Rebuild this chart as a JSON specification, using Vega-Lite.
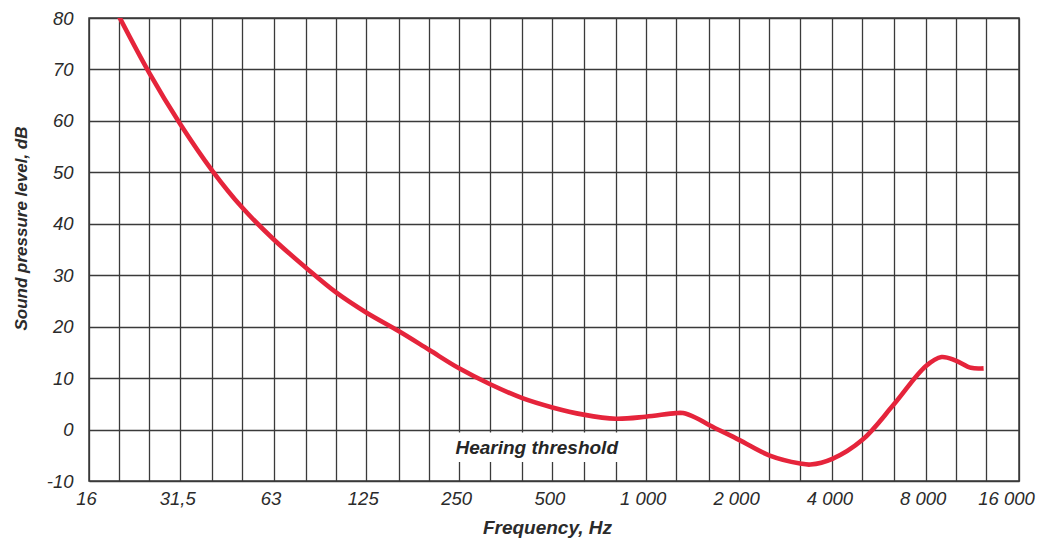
{
  "$schema": "https://vega.github.io/schema/vega-lite/v6.json",
  "width": 930,
  "height": 463,
  "autosize": {"type": "none"},
  "padding": {"left": 89, "top": 18, "right": 19, "bottom": 57},
  "background": "white",
  "config": {
    "view": {"stroke": "#3a3a3a", "strokeWidth": 1.5},
    "font": "Liberation Sans"
  },
  "datasets": {
    "curve": [
      {"f": 20, "db": 80.3},
      {"f": 25, "db": 69.4},
      {"f": 31.5, "db": 59.4},
      {"f": 40, "db": 50.3},
      {"f": 50, "db": 43.1},
      {"f": 63, "db": 37.0},
      {"f": 80, "db": 31.5},
      {"f": 100, "db": 26.7},
      {"f": 125, "db": 22.8},
      {"f": 160, "db": 19.1},
      {"f": 200, "db": 15.5},
      {"f": 250, "db": 11.9},
      {"f": 315, "db": 8.8},
      {"f": 400, "db": 6.1},
      {"f": 500, "db": 4.3},
      {"f": 630, "db": 2.9},
      {"f": 800, "db": 2.1},
      {"f": 1000, "db": 2.5},
      {"f": 1250, "db": 3.2},
      {"f": 1320, "db": 3.2},
      {"f": 1450, "db": 2.3},
      {"f": 1600, "db": 0.9},
      {"f": 2000, "db": -2.0},
      {"f": 2500, "db": -5.0},
      {"f": 3150, "db": -6.6},
      {"f": 3400, "db": -6.8},
      {"f": 4000, "db": -5.7},
      {"f": 5000, "db": -2.0},
      {"f": 6300, "db": 4.8},
      {"f": 8000, "db": 12.3},
      {"f": 9000, "db": 14.1},
      {"f": 10000, "db": 13.4},
      {"f": 11200, "db": 12.0},
      {"f": 12300, "db": 11.9}
    ],
    "note": [
      {"f": 445, "db": -3.5, "label": "Hearing threshold", "f1": 222, "f2": 860, "db1": -0.55, "db2": -6.3}
    ]
  },
  "layer": [
    {
      "data": {"name": "curve"},
      "mark": {"type": "line", "color": "#e5243b", "strokeWidth": 4.6, "interpolate": "catmull-rom", "clip": true},
      "encoding": {
        "x": {
          "field": "f",
          "type": "quantitative",
          "title": "Frequency, Hz",
          "scale": {"type": "log", "domain": [16, 16000], "nice": false},
          "axis": {
            "values": [16, 20, 25, 31.5, 40, 50, 63, 80, 100, 125, 160, 200, 250, 315, 400, 500, 630, 800, 1000, 1250, 1600, 2000, 2500, 3150, 4000, 5000, 6300, 8000, 10000, 12500, 16000],
            "labelExpr": "datum.value==16?'16':datum.value==31.5?'31,5':datum.value==63?'63':datum.value==125?'125':datum.value==250?'250':datum.value==500?'500':datum.value==1000?'1 000':datum.value==2000?'2 000':datum.value==4000?'4 000':datum.value==8000?'8 000':datum.value==16000?'16 000':''",
            "labelOverlap": false,
            "labelFlush": false,
            "labelBound": false,
            "labelOffset": {"condition": {"test": "datum.value==16000", "value": -13}, "value": -3},
            "labelPadding": 8,
            "labelFontSize": 18.5,
            "labelFontStyle": "italic",
            "labelColor": "#2b2b2b",
            "tickSize": 0,
            "ticks": false,
            "domain": false,
            "grid": true,
            "gridColor": "#3a3a3a",
            "gridWidth": 1.3,
            "title": "Frequency, Hz",
            "titleFontSize": 19,
            "titleFontWeight": "bold",
            "titleFontStyle": "italic",
            "titleColor": "#2b2b2b",
            "titleX": 458,
            "titleY": 52,
            "titleAlign": "center",
            "titleBaseline": "alphabetic"
          }
        },
        "y": {
          "field": "db",
          "type": "quantitative",
          "title": "Sound pressure level, dB",
          "scale": {"domain": [-10, 80], "nice": false},
          "axis": {
            "values": [-10, 0, 10, 20, 30, 40, 50, 60, 70, 80],
            "labelExpr": "'' + datum.value",
            "labelPadding": 16,
            "labelFontSize": 18.5,
            "labelFontStyle": "italic",
            "labelColor": "#2b2b2b",
            "tickSize": 0,
            "ticks": false,
            "domain": false,
            "grid": true,
            "gridColor": "#3a3a3a",
            "gridWidth": 1.3,
            "title": "Sound pressure level, dB",
            "titleFontSize": 17,
            "titleFontWeight": "bold",
            "titleFontStyle": "italic",
            "titleColor": "#2b2b2b",
            "titleAngle": -90,
            "titleX": -68,
            "titleY": 210,
            "titleAlign": "center",
            "titleBaseline": "middle"
          }
        }
      }
    },
    {
      "data": {"name": "note"},
      "mark": {"type": "rect", "fill": "white"},
      "encoding": {
        "x": {"field": "f1", "type": "quantitative", "title": "Frequency, Hz"},
        "x2": {"field": "f2"},
        "y": {"field": "db1", "type": "quantitative", "title": "Sound pressure level, dB"},
        "y2": {"field": "db2"}
      }
    },
    {
      "data": {"name": "note"},
      "mark": {"type": "text", "fontSize": 19, "fontWeight": "bold", "fontStyle": "italic", "color": "#262626", "align": "center", "baseline": "middle"},
      "encoding": {
        "x": {"field": "f", "type": "quantitative", "title": "Frequency, Hz"},
        "y": {"field": "db", "type": "quantitative", "title": "Sound pressure level, dB"},
        "text": {"field": "label"}
      }
    }
  ]
}
